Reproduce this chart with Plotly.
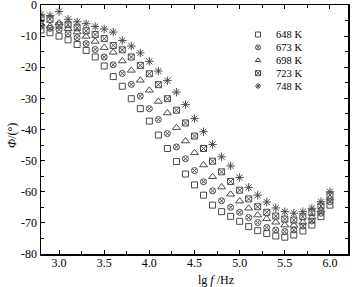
import plotly.graph_objects as go

# ---------------- data ----------------
lgf = [2.8, 2.9, 3.0, 3.1, 3.2, 3.3, 3.4, 3.5, 3.6, 3.7, 3.8, 3.9, 4.0, 4.1, 4.2, 4.3, 4.4,
       4.5, 4.6, 4.7, 4.8, 4.9, 5.0, 5.1, 5.2, 5.3, 5.4, 5.5, 5.6, 5.7, 5.8, 5.9, 6.0]

phi_648 = [-8.0, -8.9, -10.0, -11.2, -12.7, -14.6, -16.7, -19.6, -23.0, -26.1, -30.1, -33.3,
           -37.3, -41.8, -46.1, -50.3, -54.3, -57.8, -61.1, -64.3, -66.4, -67.9, -69.5, -71.2,
           -72.5, -73.4, -74.2, -74.6, -73.9, -72.6, -70.7, -68.0, -64.3]
phi_673 = [-6.8, -7.5, -7.9, -9.2, -10.5, -12.4, -14.3, -16.7, -19.2, -22.0, -25.5, -29.3,
           -33.3, -36.8, -41.3, -45.6, -49.4, -53.2, -56.8, -59.7, -62.9, -65.0, -66.6, -68.3,
           -69.9, -71.5, -72.3, -72.8, -72.3, -71.0, -69.4, -66.9, -63.2]
phi_698 = [-6.0, -6.8, -5.8, -7.6, -8.7, -10.1, -11.7, -13.7, -15.2, -18.0, -21.0, -24.2,
           -27.4, -31.0, -34.7, -39.4, -43.7, -47.5, -51.4, -55.2, -58.5, -60.8, -63.0, -65.3,
           -67.5, -68.7, -69.8, -70.7, -70.8, -69.8, -68.2, -65.9, -62.1]
phi_723 = [-4.4, -4.6, -6.5, -6.3, -7.3, -8.3, -9.5, -10.8, -13.0, -14.4, -16.7, -19.4,
           -22.1, -25.6, -30.1, -33.8, -37.9, -42.1, -46.1, -50.2, -53.6, -56.7, -59.5, -62.3,
           -64.8, -66.6, -67.8, -68.8, -69.1, -68.0, -66.7, -64.6, -61.1]
phi_748 = [-3.0, -3.4, -2.1, -4.6, -5.4, -6.0, -6.9, -7.7, -8.7, -11.4, -13.2, -15.4,
           -18.1, -21.2, -24.3, -28.0, -32.0, -36.5, -40.7, -44.8, -48.8, -51.7, -55.4, -58.6,
           -61.1, -63.3, -65.2, -66.4, -66.9, -66.4, -65.3, -63.2, -60.0]

series_names = ["648 K", "673 K", "698 K", "723 K", "748 K"]
series_values = [phi_648, phi_673, phi_698, phi_723, phi_748]
series_symbols = ["square-open", "circle-x-open", "triangle-up-open", "square-x-open", "asterisk-open"]
series_sizes = [6, 6, 7, 6, 7]

x_tickvals = [3.0, 3.5, 4.0, 4.5, 5.0, 5.5, 6.0]
x_ticktext = ["3.0", "3.5", "4.0", "4.5", "5.0", "5.5", "6.0"]
y_tickvals = [-80, -70, -60, -50, -40, -30, -20, -10, 0]
y_ticktext = ["-80", "-70", "-60", "-50", "-40", "-30", "-20", "-10", "0"]

# ---------------- style ----------------
W, H = 354, 287
ML, MR, MT, MB = 41, 6, 5, 33
PW, PH = W - ML - MR, H - MT - MB
FONT = "Liberation Serif, Times New Roman, serif"
MCOL = "#4a4a4a"

fig = go.Figure()
for name, vals, sym, sz in zip(series_names, series_values, series_symbols, series_sizes):
    fig.add_trace(go.Scatter(
        x=lgf, y=vals, mode="markers", name=name, showlegend=False,
        marker=dict(symbol=sym, size=sz, color=MCOL, line=dict(width=1, color=MCOL)),
    ))

# compact legend drawn on a hidden helper axis pair measured in pixels
LEG_W = 100
leg_x_px = 258 - (W - MR - LEG_W)   # marker centre, px from helper-axis left edge
leg_top = 34.5 - MT
leg_gap = 12.9
for i, (name, sym) in enumerate(zip(series_names, series_symbols)):
    yy = leg_top + i * leg_gap
    fig.add_trace(go.Scatter(
        x=[leg_x_px], y=[yy], mode="markers", xaxis="x2", yaxis="y2", showlegend=False,
        marker=dict(symbol=sym, size=5, color=MCOL, line=dict(width=1, color=MCOL)),
        hoverinfo="skip", cliponaxis=False,
    ))
    fig.add_annotation(x=leg_x_px + 16, y=yy, xref="x2", yref="y2", text=name,
                       showarrow=False, xanchor="left", yanchor="middle",
                       font=dict(family=FONT, size=10.5, color="black"))

axis_common = dict(showline=True, linewidth=1.5, linecolor="black", mirror="ticks",
                   ticks="inside", ticklen=4, tickwidth=1, tickcolor="black",
                   showgrid=False, zeroline=False, ticklabeloverflow="allow",
                   automargin=False,
                   tickfont=dict(family=FONT, size=12, color="black"))

fig.update_layout(
    width=W, height=H,
    margin=dict(l=ML, r=MR, t=MT, b=MB, autoexpand=False),
    paper_bgcolor="white", plot_bgcolor="rgba(0,0,0,0)",
    showlegend=False,
    xaxis=dict(range=[2.8, 6.2], tickmode="array", tickvals=x_tickvals, ticktext=x_ticktext,
               minor=dict(dtick=0.25, tick0=3.0, ticks="inside", ticklen=3, tickcolor="black"),
               ticklabelstandoff=-3,
               **axis_common),
    yaxis=dict(range=[-80, 0], tickmode="array", tickvals=y_tickvals, ticktext=y_ticktext,
               minor=dict(dtick=5, tick0=0, ticks="inside", ticklen=3, tickcolor="black"),
               **axis_common),
    xaxis2=dict(domain=[1 - LEG_W / PW, 1], range=[0, LEG_W], visible=False, anchor="y2",
                automargin=False),
    yaxis2=dict(domain=[0, 1], range=[PH, 0], visible=False, anchor="x2", automargin=False),
)

fig.add_annotation(text="<i>Φ</i>/(°)", xref="paper", yref="paper",
                   x=(12 - ML) / PW, y=1 - (136 - MT) / PH, textangle=-90,
                   showarrow=False, xanchor="center", yanchor="middle",
                   font=dict(family=FONT, size=12, color="black"))
fig.add_annotation(text="lg <i>f</i> /Hz", xref="paper", yref="paper",
                   x=(216 - ML) / PW, y=-(280 - MT - PH) / PH, yanchor="middle",
                   xanchor="center", showarrow=False,
                   font=dict(family=FONT, size=12, color="black"))

fig.write_html(
    "out.html",
    config={"displayModeBar": False, "staticPlot": True},
    post_script="document.body.style.margin='0';document.body.style.padding='0';"
                "document.documentElement.style.overflow='hidden';",
)
